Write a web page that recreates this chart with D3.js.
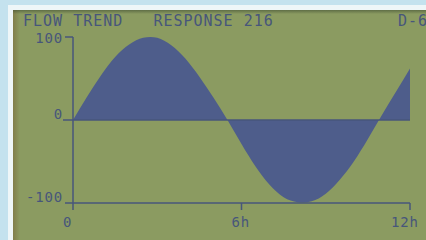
<!DOCTYPE html>
<html>
<head>
<meta charset="utf-8">
<script src="https://cdn.jsdelivr.net/npm/d3@7"></script>
<style>
    body { margin: 0; background: #c4e2ee; overflow: hidden; }
    text { font-family: "DejaVu Sans Mono", monospace; }
</style>
</head>
<body>
<div id="plot"></div>
<script>
"use strict";

// readings every half hour
const hours = [0, 0.5, 1, 1.5, 2, 2.5, 3, 3.5, 4, 4.5, 5, 5.5, 6,
    6.5, 7, 7.5, 8, 8.5, 9, 9.5, 10, 10.5, 11, 11.5, 12];
const flow = [0, 28, 54, 76, 91, 99, 99, 90, 74, 52, 27, 0, -29,
    -56, -78, -93, -99, -98, -89, -72, -50, -23, 6, 34, 62];
const yTicks = [100, 0, -100];
const xTicks = [0, 6, 12];
const xTickLabels = ["0", "6h", "12h"];
const title = "FLOW TREND   RESPONSE 216";
const pageId = "D-6";

const msm = {
    width: 426,
    height: 240,
    lcdLeft: 13,
    lcdTop: 10,
    plotLeft: 73,
    plotRight: 410,
    plotTop: 37,
    plotBottom: 203
}

const ink = "#47567b";
let svg;

window.onload = function () {
    svg = d3.select("#plot")
        .append("svg")
        .attr("width", msm.width)
        .attr("height", msm.height);
    drawScreen();
    let scalers = getScalers();
    plotData(scalers);
    drawAxes(scalers);
    drawTexts();
}

function drawScreen() {
    let defs = svg.append("defs");
    let shadeL = defs.append("linearGradient").attr("id", "shadeL")
        .attr("x1", 0).attr("x2", 1).attr("y1", 0).attr("y2", 0);
    shadeL.append("stop").attr("offset", 0).attr("stop-color", "#7a6a3c").attr("stop-opacity", 0.6);
    shadeL.append("stop").attr("offset", 1).attr("stop-color", "#7a6a3c").attr("stop-opacity", 0);
    let shadeT = defs.append("linearGradient").attr("id", "shadeT")
        .attr("x1", 0).attr("x2", 0).attr("y1", 0).attr("y2", 1);
    shadeT.append("stop").attr("offset", 0).attr("stop-color", "#4c5a3a").attr("stop-opacity", 0.7);
    shadeT.append("stop").attr("offset", 1).attr("stop-color", "#4c5a3a").attr("stop-opacity", 0);

    // white bezel strip
    svg.append("rect")
        .attr("x", msm.lcdLeft - 5)
        .attr("y", msm.lcdTop - 5)
        .attr("width", msm.width)
        .attr("height", msm.height)
        .attr("fill", "#eef6f8");
    // lcd glass
    svg.append("rect")
        .attr("x", msm.lcdLeft)
        .attr("y", msm.lcdTop)
        .attr("width", msm.width - msm.lcdLeft)
        .attr("height", msm.height - msm.lcdTop)
        .attr("fill", "#8b9b61");
    svg.append("rect")
        .attr("x", msm.lcdLeft)
        .attr("y", msm.lcdTop)
        .attr("width", 7)
        .attr("height", msm.height - msm.lcdTop)
        .attr("fill", "url(#shadeL)");
    svg.append("rect")
        .attr("x", msm.lcdLeft)
        .attr("y", msm.lcdTop)
        .attr("width", msm.width - msm.lcdLeft)
        .attr("height", 4)
        .attr("fill", "url(#shadeT)");
}

function getScalers() {
    let xScale = d3.scaleLinear()
        .domain([0, 12])
        .range([msm.plotLeft, msm.plotRight]);
    let yScale = d3.scaleLinear()
        .domain([-100, 100])
        .range([msm.plotBottom, msm.plotTop]);
    return {
        xScale: xScale,
        yScale: yScale
    };
}

function plotData(scalers) {
    let data = hours.map((h, i) => ({ h: h, v: flow[i] }));
    let area = d3.area()
        .x(d => scalers.xScale(d.h))
        .y0(scalers.yScale(0))
        .y1(d => scalers.yScale(d.v))
        .curve(d3.curveNatural);
    svg.append("path")
        .datum(data)
        .attr("d", area)
        .attr("fill", "#4e5d8b");
}

function drawAxes(scalers) {
    let x = scalers.xScale;
    let y = scalers.yScale;
    let g = svg.append("g")
        .attr("stroke", ink)
        .attr("stroke-width", 1.5)
        .attr("fill", "none");

    // vertical axis, runs a little below the bottom line
    g.append("line")
        .attr("x1", x(0)).attr("x2", x(0))
        .attr("y1", y(100)).attr("y2", y(-100) + 7);
    // horizontal lines at 100 (short tick), 0 and -100
    g.append("line")
        .attr("x1", x(0) - 8).attr("x2", x(0))
        .attr("y1", y(100)).attr("y2", y(100));
    g.append("line")
        .attr("x1", x(0) - 10).attr("x2", x(12))
        .attr("y1", y(0)).attr("y2", y(0));
    g.append("line")
        .attr("x1", x(0) - 8).attr("x2", x(12))
        .attr("y1", y(-100)).attr("y2", y(-100));
    // hour ticks
    g.selectAll(".xt")
        .data(xTicks.slice(1))
        .enter()
        .append("line")
        .attr("x1", d => x(d)).attr("x2", d => x(d))
        .attr("y1", y(-100)).attr("y2", y(-100) + 7);

    // y labels: 100 sits centred on its tick, 0 and -100 sit on their lines
    svg.append("g")
        .selectAll("text")
        .data(yTicks)
        .enter()
        .append("text")
        .attr("x", x(0) - 10)
        .attr("y", d => d === 100 ? y(d) + 6 : y(d) - 1)
        .attr("text-anchor", "end")
        .attr("font-size", "14px")
        .attr("letter-spacing", "0.8px")
        .attr("fill", ink)
        .text(d => d);

    svg.append("g")
        .selectAll("text")
        .data(xTicks)
        .enter()
        .append("text")
        .attr("x", (d, i) => x(d) - String(d).length * 9 - 1)
        .attr("y", y(-100) + 24)
        .attr("font-size", "14px")
        .attr("letter-spacing", "0.8px")
        .attr("fill", ink)
        .text((d, i) => xTickLabels[i]);
}

function drawTexts() {
    svg.append("text")
        .attr("x", 23)
        .attr("y", 26)
        .attr("font-size", "15px")
        .attr("letter-spacing", "1px")
        .attr("fill", ink)
        .attr("xml:space", "preserve")
        .style("white-space", "pre")
        .text(title);
    svg.append("text")
        .attr("x", 398)
        .attr("y", 26)
        .attr("font-size", "15px")
        .attr("letter-spacing", "1px")
        .attr("fill", ink)
        .text(pageId);
}
</script>
</body>
</html>
